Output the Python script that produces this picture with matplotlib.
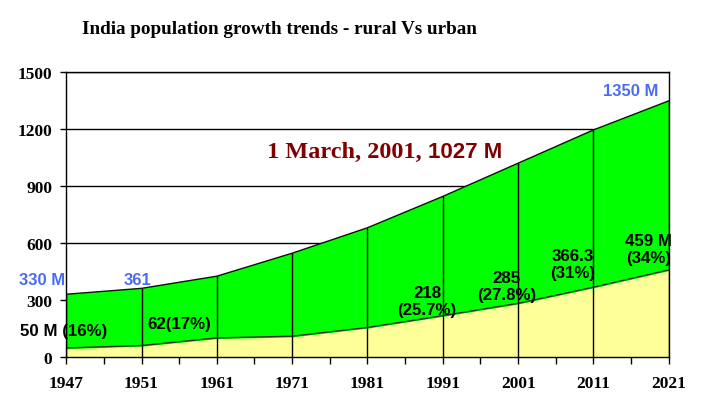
"""
    India population growth, rural vs urban,
    stacked area chart redrawn from a slide.
"""
import numpy as np
import matplotlib.pyplot as plt

years = ["1947", "1951", "1961", "1971", "1981", "1991", "2001", "2011", "2021"]
total = [330, 361, 425, 546, 680, 845, 1020, 1195, 1348]   # million
urban = [47, 60, 100, 109, 155, 217, 282, 367, 458]        # million

# labels on the urban band: (text, x index, y value)
urban_labels = [
    ("50 M (16%)", -0.03, 137),
    ("62(17%)", 1.5, 174),
    ("218\n(25.7%)", 4.79, 295),
    ("285\n(27.8%)", 5.85, 374),
    ("366.3\n(31%)", 6.72, 490),
    ("459 M\n(34%)", 7.73, 568),
]
total_labels = [
    ("330 M", -0.32, 410),
    ("361", 0.95, 410),
    ("1350 M", 7.49, 1400),
]

serif = "Liberation Serif"
sans = "Liberation Sans"
blue = "#4a6cf2"
dark_red = "#800000"

x = np.arange(len(years))

fig = plt.figure(figsize=(7.04, 4.10), dpi=100)
ax = fig.add_axes([0.094, 0.127, 0.856, 0.695])

# horizontal grid behind the areas
for yv in [300, 600, 900, 1200, 1500]:
    ax.axhline(yv, color="k", lw=1, zorder=0)

ax.fill_between(x, 0, urban, color="#ffff99", zorder=1)
ax.fill_between(x, urban, total, color="#00ff00", zorder=1)
ax.plot(x, urban, color="#333333", lw=1, zorder=2)
ax.plot(x, total, color="#111111", lw=1, zorder=2)

# vertical drop lines at each census year
ax.vlines(x, 0, total, color="k", lw=1, zorder=3)

ax.set_xlim(0, len(years) - 1)
ax.set_ylim(0, 1500)

ax.set_xticks(x)
ax.set_xticklabels(years)
ax.set_xticks(x[:-1] + 0.5, minor=True)
ax.set_yticks([0, 300, 600, 900, 1200, 1500])
ax.tick_params(axis="x", which="both", direction="out", length=5, width=1, pad=8)
ax.tick_params(axis="y", direction="out", length=4, width=1, pad=6)
for lab in ax.get_xticklabels() + ax.get_yticklabels():
    lab.set_fontfamily(serif)
    lab.set_fontweight("bold")
    lab.set_fontsize(12.5)

for sp in ax.spines.values():
    sp.set_color("k")
    sp.set_linewidth(1)
    sp.set_zorder(4)

for txt, xi, yv in urban_labels:
    ax.text(xi, yv, txt, ha="center", va="center", family=sans,
            fontweight="bold", fontsize=12.2, color="k",
            linespacing=1.2, zorder=5, clip_on=False)

for txt, xi, yv in total_labels:
    ax.text(xi, yv, txt, ha="center", va="center", family=sans,
            fontweight="bold", fontsize=12, color=blue,
            zorder=5, clip_on=False)

# census date note, mixed fonts like the slide
ax.text(4.80, 1053, "1 March, 2001, ", ha="right", va="baseline",
        family=serif, fontweight="bold", fontsize=17.5, color=dark_red, zorder=5)
ax.text(4.80, 1053, "1027 M", ha="left", va="baseline",
        family=sans, fontweight="bold", fontsize=16, color=dark_red, zorder=5)

fig.text(0.117, 0.927, "India population growth trends - rural Vs urban",
         ha="left", va="center", family=serif, fontweight="bold",
         fontsize=13.8, color="k")

plt.savefig("out.png", dpi=100)
